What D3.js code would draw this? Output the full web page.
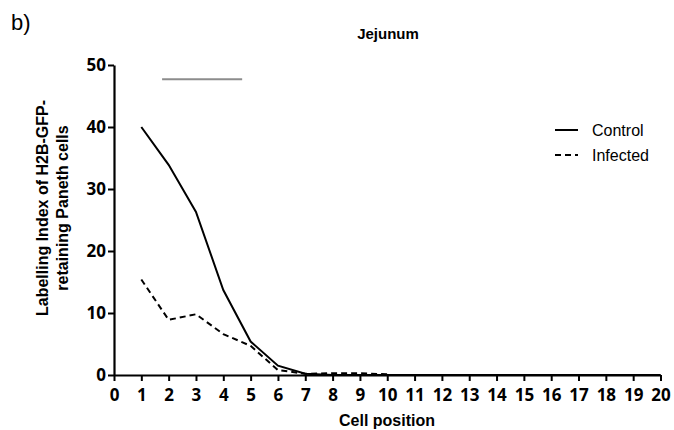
<!DOCTYPE html>
<html>
<head>
<meta charset="utf-8">
<script src="https://cdn.jsdelivr.net/npm/d3@7"></script>
<style>
body { margin: 0; background: #fff; }
svg { display: block; }
</style>
</head>
<body>
<div id="chart-area"></div>
<script>
// data
var positions = d3.range(0, 21);
var controlPos = [1, 2, 3, 4, 5, 6, 7, 8, 9, 10, 11, 12, 13, 14, 15, 16, 17, 18, 19, 20];
var controlVal = [40, 33.9, 26.3, 13.7, 5.4, 1.5, 0.2, 0, 0, 0, 0, 0, 0, 0, 0, 0, 0, 0, 0, 0];
var infectedPos = [1, 2, 3, 4, 5, 6, 7, 8, 9, 10];
var infectedVal = [15.4, 8.9, 9.8, 6.6, 4.7, 0.8, 0.2, 0.3, 0.3, 0.1];
var barPos = [1.76, 4.69];
var barVal = 47.7;
var yTicks = [0, 10, 20, 30, 40, 50];
var seriesNames = ["Control", "Infected"];

var W = 674, H = 430;
var margin = { left: 114, right: 14, top: 65, bottom: 55 };
var width = W - margin.left - margin.right;
var height = H - margin.top - margin.bottom;

var svg = d3.select("#chart-area").append("svg")
	.attr("width", W)
	.attr("height", H);

var g = svg.append("g")
	.attr("transform", "translate(" + margin.left + "," + margin.top + ")");

var x = d3.scaleLinear().domain([0, 20]).range([0, 546.5]);
var y = d3.scaleLinear().domain([0, 50]).range([height, 0]);

// panel label and title
svg.append("text")
	.attr("x", 11).attr("y", 30)
	.style("font-family", "'Liberation Sans', Arial, sans-serif")
	.style("font-size", "22px")
	.text("b)");

svg.append("text")
	.attr("x", 388).attr("y", 39)
	.attr("text-anchor", "middle")
	.style("font-family", "'Liberation Sans', Arial, sans-serif")
	.style("font-weight", "bold")
	.style("font-size", "15px")
	.text("Jejunum");

// axes
var xAxis = g.append("g")
	.attr("transform", "translate(0," + height + ")")
	.call(d3.axisBottom(x).tickValues(positions).tickSize(6).tickSizeOuter(0).tickPadding(8));

var yAxis = g.append("g")
	.call(d3.axisLeft(y).tickValues(yTicks).tickSize(6).tickSizeOuter(0).tickPadding(2));

[xAxis, yAxis].forEach(function(a){
	a.select(".domain").attr("stroke", "#000").attr("stroke-width", 2.2);
	a.selectAll(".tick line").attr("stroke", "#000").attr("stroke-width", 2);
	a.selectAll(".tick text")
		.attr("fill", "#000")
		.style("font-family", "'Open Sans', sans-serif")
		.style("font-weight", "bold")
		.style("font-size", "17px");
});

// axis titles
g.append("text")
	.attr("x", 273).attr("y", height + 51)
	.attr("text-anchor", "middle")
	.style("font-family", "'Liberation Sans', Arial, sans-serif")
	.style("font-weight", "bold")
	.style("font-size", "16px")
	.text("Cell position");

var yTitle = svg.append("text")
	.attr("transform", "translate(48,208) rotate(-90)")
	.attr("text-anchor", "middle")
	.style("font-family", "'Liberation Sans', Arial, sans-serif")
	.style("font-weight", "bold")
	.style("font-size", "16px");
yTitle.append("tspan").attr("x", 0).attr("dy", 0).text("Labelling Index of H2B-GFP-");
yTitle.append("tspan").attr("x", 0).attr("dy", 20).text("retaining Paneth cells");

// grey significance bar
g.append("line")
	.attr("x1", x(barPos[0])).attr("x2", x(barPos[1]))
	.attr("y1", y(barVal)).attr("y2", y(barVal))
	.attr("stroke", "#8c8c8c")
	.attr("stroke-width", 2);

var line = d3.line()
	.x(function(d){ return x(d[0]); })
	.y(function(d){ return y(d[1]); });

g.append("path")
	.datum(d3.zip(controlPos, controlVal))
	.attr("d", line)
	.attr("fill", "none")
	.attr("stroke", "#000")
	.attr("stroke-width", 2);

g.append("path")
	.datum(d3.zip(infectedPos, infectedVal))
	.attr("d", line)
	.attr("fill", "none")
	.attr("stroke", "#000")
	.attr("stroke-width", 2)
	.attr("stroke-dasharray", "6,4");

// legend
var legend = svg.append("g").attr("transform", "translate(555,130)");
seriesNames.forEach(function(name, i){
	var row = legend.append("g").attr("transform", "translate(0," + i * 25 + ")");
	row.append("line")
		.attr("x1", 0).attr("x2", 23)
		.attr("stroke", "#000")
		.attr("stroke-width", 2)
		.attr("stroke-dasharray", i === 1 ? "6,4" : null);
	row.append("text")
		.attr("x", 37).attr("y", 5.5)
		.style("font-family", "'Liberation Sans', Arial, sans-serif")
		.style("font-size", "16px")
		.text(name);
});
</script>
</body>
</html>
